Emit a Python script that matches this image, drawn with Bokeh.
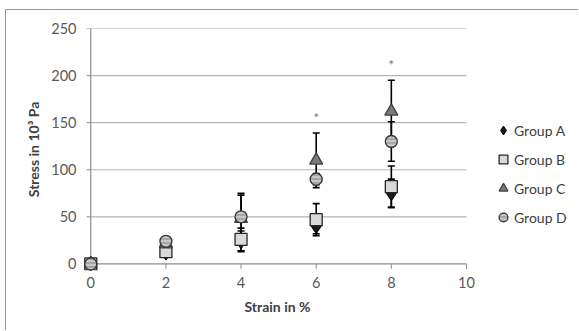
from bokeh.plotting import figure
from bokeh.models import Range1d, FixedTicker, Legend, LegendItem, Title
from bokeh.core.properties import value
from bokeh.embed import file_html
from bokeh.resources import INLINE

# ---- data ----
strain = [0, 2, 4, 6, 8]
group_a = [0, 12, 24, 40, 75]
group_a_err = [0, 3, 11, 8, 15]
group_b = [0, 13, 26, 47, 82]
group_b_err = [0, 4, 12, 17, 22]
group_c = [0, 21, 48, 110, 162]
group_c_err = [0, 4, 25, 29, 33]
group_d = [0, 24, 50, 90, 130]
group_d_err = [0, 3, 25, 6, 21]
star_x = [6, 8]
star_y = [155, 212]
x_ticks = [0, 2, 4, 6, 8, 10]
y_ticks = [0, 50, 100, 150, 200, 250]
series_names = ["Group A", "Group B", "Group C", "Group D"]

FONT = "Lato"
AXIS_GRAY = "#8c8c8c"

p = figure(width=573, height=321, output_backend="svg", toolbar_location=None,
           x_range=Range1d(-0.22, 12.875), y_range=Range1d(-7, 250),
           min_border_left=76, min_border_right=5, min_border_top=18, min_border_bottom=61)
p.styles = {"margin-left": "5px", "margin-top": "9px",
            "border-left": "1px solid #9a9a9a", "border-top": "1px solid #9a9a9a"}
p.outline_line_color = None
p.xgrid.visible = False
p.ygrid.visible = False

# gridlines (from tick values)
n = len(y_ticks) - 1
p.segment(x0=[x_ticks[0]] * n, x1=[x_ticks[-1]] * n, y0=y_ticks[1:], y1=y_ticks[1:],
          line_color="#b3b3b3", line_width=1.2)
# axis lines
p.segment(x0=[x_ticks[0]], x1=[x_ticks[-1]], y0=[0], y1=[0], line_color=AXIS_GRAY, line_width=1.2)
p.segment(x0=[0], x1=[0], y0=[y_ticks[0]], y1=[y_ticks[-1]], line_color=AXIS_GRAY, line_width=1.2)
# tick marks
p.segment(x0=x_ticks, x1=x_ticks, y0=[0] * len(x_ticks), y1=[-5.3] * len(x_ticks),
          line_color=AXIS_GRAY, line_width=1)
p.segment(x0=[0] * len(y_ticks), x1=[-0.11] * len(y_ticks), y0=y_ticks, y1=y_ticks,
          line_color=AXIS_GRAY, line_width=1)

for ax in (p.xaxis[0], p.yaxis[0]):
    ax.axis_line_color = None
    ax.major_tick_line_color = None
    ax.minor_tick_line_color = None
    ax.major_tick_in = 0
    ax.major_tick_out = 0
    ax.major_label_text_font = FONT
    ax.major_label_text_font_size = "14.5px"
    ax.major_label_text_color = "#595959"
    ax.axis_label_text_font = FONT
    ax.axis_label_text_font_size = "14px"
    ax.axis_label_text_font_style = "bold"
    ax.axis_label_text_color = "#404040"

p.xaxis[0].ticker = FixedTicker(ticks=x_ticks)
p.yaxis[0].ticker = FixedTicker(ticks=y_ticks)
p.yaxis[0].axis_label = "Stress in 10³ Pa"
p.xaxis[0].major_label_standoff = 6
p.yaxis[0].major_label_standoff = 6
p.yaxis[0].axis_label_standoff = 6

xtitle = Title(text="Strain in %", align="left", offset=162, standoff=11,
               text_font=FONT, text_font_size="14px", text_font_style="bold", text_color="#404040")
p.add_layout(xtitle, "below")

groups = [(group_a, group_a_err), (group_b, group_b_err), (group_c, group_c_err), (group_d, group_d_err)]

# error bars
for vals, errs in groups:
    lo = [v - e for v, e in zip(vals, errs)]
    hi = [v + e for v, e in zip(vals, errs)]
    p.segment(x0=strain, x1=strain, y0=lo, y1=hi, line_color="black", line_width=1.6)
    p.scatter(x=strain, y=hi, marker="dash", size=7, line_color="black", line_width=1.6)
    p.scatter(x=strain, y=lo, marker="dash", size=7, line_color="black", line_width=1.6)

styles = [
    dict(marker="diamond", size=15, fill_color="#1a1a1a", line_color="black", line_width=1),
    dict(marker="square", size=12, fill_color="#d9d9d9", line_color="#262626", line_width=1.3),
    dict(marker="triangle", size=13, fill_color="#7a7a7a", line_color="#404040", line_width=1.3),
    dict(marker="circle", size=12, fill_color="#a6a6a6", line_color="#333333", line_width=1.3,
         hatch_pattern="horizontal_line", hatch_color="#e6e6e6", hatch_scale=4, hatch_weight=1),
]

items = []
for (vals, errs), st, name in zip(groups, styles, series_names):
    r = p.scatter(x=strain, y=vals, **st)
    items.append(LegendItem(label=name, renderers=[r]))

p.text(x=star_x, y=star_y, text=["*"] * len(star_x), text_align="center", text_baseline="middle",
       text_color="#7f7f7f", text_font=value(FONT), text_font_size="14px")

legend = Legend(items=items, location=(410, 40), orientation="vertical")
legend.border_line_color = None
legend.background_fill_alpha = 0
legend.label_text_font = FONT
legend.label_text_font_size = "14px"
legend.label_text_color = "#404040"
legend.glyph_width = 22
legend.glyph_height = 26
legend.label_standoff = 0
legend.label_height = 20
legend.spacing = 3
legend.padding = 0
legend.margin = 0
p.add_layout(legend, "center")

open("out.html", "w").write(file_html(p, INLINE))
